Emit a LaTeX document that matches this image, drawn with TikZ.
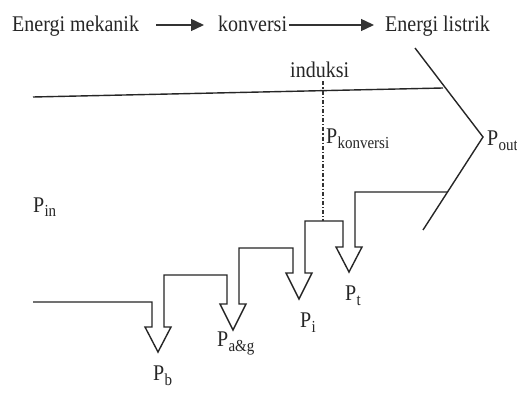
\documentclass[tikz,border=0pt]{standalone}
\usepackage{fontspec}
\setmainfont{Liberation Serif}
\usetikzlibrary{arrows.meta}
\newcommand\tx[1]{\scalebox{1}[1.12]{#1}}
\newcommand\Psb[1]{\tx{P}\kern0.2pt\raisebox{-5pt}{\fontsize{15}{15}\selectfont\tx{#1}}}
\begin{document}
\begin{tikzpicture}[x=1pt,y=-1pt,
  every node/.style={font=\fontsize{20}{24}\selectfont, inner sep=0pt, text=black!85},
  lbl/.style={anchor=base west},
  flow/.style={line width=1.4pt, line join=miter, draw=black!85},
  arr/.style={line width=1.4pt, draw=black!80, -{Triangle[length=13pt,width=12pt]}},
  ind/.style={line width=1.1pt, draw=black!80, dash pattern=on 4pt off 2pt on 1.2pt off 2pt}]
\fill[white] (0,0) rectangle (517,393);
\useasboundingbox (0,0) rectangle (517,393);
% top row
\node[lbl] (em) at (12,32) {\tx{Energi mekanik}};
\node[lbl] (konv) at (218,32) {\tx{konversi}};
\node[lbl] (el) at (385,32) {\tx{Energi listrik}};
\draw[arr] ([shift={(17,-7)}]em.base east) -- ([shift={(-14,-7)}]konv.base west);
\draw[arr] ([shift={(2,-7)}]konv.base east) -- ([shift={(-11,-7)}]el.base west);
% labels
\node[lbl] (induksi) at (290,78) {\tx{induksi}};
\node[lbl] (pk) at (326,144) {\Psb{konversi}};
\node[lbl] (pout) at (487,146) {\Psb{out}};
\node[lbl] (pin) at (33,212) {\Psb{in}};
\node[lbl] (pt) at (345,300) {\Psb{t}};
\node[lbl] (pi) at (300,327) {\Psb{i}};
\node[lbl] (pag) at (217,346) {\Psb{a\&g}};
\node[lbl] (pb) at (153,380) {\Psb{b}};
% flow band
\draw[flow] (33,97) -- (443,88);
\draw[flow] (415,48) -- (483,137) -- (423,230);
\draw[flow] (33,302) -- (152,302) -- (152,327) -- (145,327) -- (158,352) -- (171,327) -- (164,327)
  -- (164,275) -- (227,275) -- (227,304) -- (220,304) -- (233,330) -- (246,304) -- (239,304)
  -- (239,248) -- (293,248) -- (293,273) -- (286,273) -- (299,299) -- (312,273) -- (305,273)
  -- (305,221) -- (343,221) -- (343,247) -- (336,247) -- (349,272) -- (362,247) -- (355,247)
  -- (355,192) -- (447,192);
\draw[ind] (induksi.south -| 323,0) ++(0,3) -- (323,221);
\end{tikzpicture}
\end{document}
